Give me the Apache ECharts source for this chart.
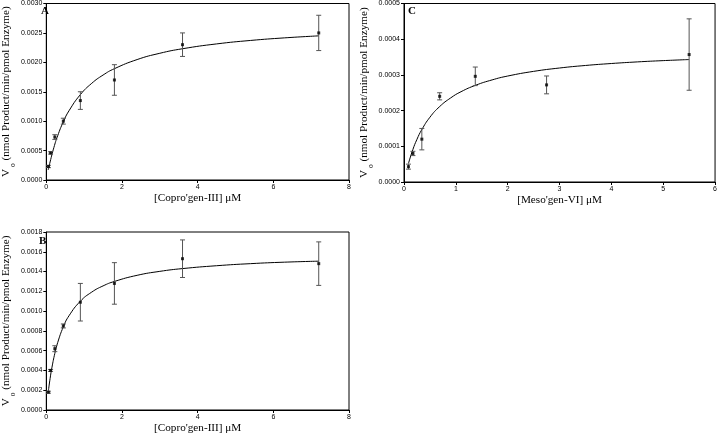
<!DOCTYPE html>
<html>
<head>
<meta charset="utf-8">
<script src="https://cdn.jsdelivr.net/npm/echarts@6/dist/echarts.min.js"></script>
<style>
  html, body { margin: 0; padding: 0; background: #fff; }
  #chart { width: 720px; height: 436px; }
</style>
</head>
<body>
<div id="chart"></div>
<script>
// Panel A: Copro'gen-III
const concA = [0.056, 0.1125, 0.225, 0.45, 0.9, 1.8, 3.6, 7.2]
const rateA = [0.00023, 0.00046, 0.00073, 0.00100, 0.00135, 0.00170, 0.00230, 0.00250]
const errA = [0.00002, 0.00002, 0.00004, 0.00005, 0.00015, 0.00026, 0.00020, 0.00030]
const fitXA = [0.05, 0.1, 0.2, 0.3, 0.45, 0.6, 0.9, 1.2, 1.5, 1.8, 2.4, 3.0, 3.6, 4.5, 5.4, 6.3, 7.2]
const fitYA = [0.00017, 0.000307, 0.000552, 0.000751, 0.00099, 0.001177, 0.001451, 0.001643, 0.001784,
  0.001892, 0.002047, 0.002154, 0.002231, 0.002313, 0.002372, 0.002416, 0.00245]

// Panel B: Copro'gen-III
const concB = [0.056, 0.1125, 0.225, 0.45, 0.9, 1.8, 3.6, 7.2]
const rateB = [0.00018, 0.00040, 0.00062, 0.00085, 0.00109, 0.00128, 0.00153, 0.00148]
const errB = [0.00001, 0.00001, 0.00003, 0.00002, 0.00019, 0.00021, 0.00019, 0.00022]
const fitXB = [0.056, 0.1, 0.15, 0.225, 0.3, 0.45, 0.6, 0.9, 1.2, 1.5, 1.8, 2.4, 3.0, 3.6, 4.5, 5.4, 6.3, 7.2]
const fitYB = [0.000195, 0.000318, 0.000433, 0.000572, 0.000681, 0.000841, 0.000953, 0.0011, 0.001192,
  0.001255, 0.0013, 0.001362, 0.001402, 0.00143, 0.001459, 0.00148, 0.001495, 0.001505]

// Panel C: Meso'gen-VI
const concC = [0.086, 0.172, 0.344, 0.688, 1.375, 2.75, 5.5]
const rateC = [0.000043, 0.000080, 0.000120, 0.000240, 0.000296, 0.000272, 0.000357]
const errC = [0.000007, 0.000006, 0.000030, 0.000010, 0.000026, 0.000025, 0.000100]
const fitXC = [0.086, 0.17, 0.25, 0.34, 0.5, 0.69, 0.9, 1.1, 1.38, 1.7, 2.0, 2.5, 3.0, 3.5, 4.0, 4.5, 5.0, 5.5]
const fitYC = [0.0000519, 0.0000905, 0.0001195, 0.0001458, 0.0001814, 0.0002116, 0.0002355, 0.0002529,
  0.0002709, 0.000286, 0.0002968, 0.0003099, 0.0003193, 0.0003264, 0.0003319, 0.0003364, 0.00034, 0.000343]

const SERIF = 'Liberation Serif'
const SANS = 'Liberation Sans'
const NAME_SIZE = 11.2

const yName = '{v|V}{o|o}{t| (nmol Product/min/pmol Enzyme)}'

function zip(...cols) {
  return cols[0].map((_, i) => cols.map((c) => c[i]))
}

function errorBar(params, api) {
  const x = api.value(0)
  const y = api.value(1)
  const e = api.value(2)
  const top = api.coord([x, y + e])
  const bot = api.coord([x, y - e])
  const w = 2.5
  const style = { stroke: '#555', lineWidth: 1 }
  return {
    type: 'group',
    children: [
      { type: 'line', shape: { x1: top[0], y1: top[1], x2: bot[0], y2: bot[1] }, style },
      { type: 'line', shape: { x1: top[0] - w, y1: top[1], x2: top[0] + w, y2: top[1] }, style },
      { type: 'line', shape: { x1: bot[0] - w, y1: bot[1], x2: bot[0] + w, y2: bot[1] }, style },
    ],
  }
}

function xAxis(idx, name, max, interval) {
  return {
    gridIndex: idx,
    type: 'value',
    min: 0,
    max,
    interval,
    name,
    nameLocation: 'middle',
    nameGap: 13,
    nameTextStyle: { fontFamily: SERIF, fontSize: NAME_SIZE, color: '#000' },
    axisLine: { lineStyle: { color: '#000', width: 1 } },
    axisTick: { show: true, length: 3, lineStyle: { color: '#000' } },
    axisLabel: { fontFamily: SANS, fontSize: 7, color: '#000', margin: 4 },
    splitLine: { show: false },
  }
}

function yAxis(idx, max, interval) {
  return {
    gridIndex: idx,
    type: 'value',
    min: 0,
    max,
    interval,
    name: yName,
    nameLocation: 'middle',
    nameGap: 22,
    nameTextStyle: {
      fontFamily: SERIF,
      fontSize: NAME_SIZE,
      color: '#000',
      rich: {
        v: { fontFamily: SERIF, fontSize: NAME_SIZE, color: '#000', verticalAlign: 'top', lineHeight: 12 },
        o: { fontFamily: SERIF, fontSize: 7.5, color: '#000', verticalAlign: 'top', lineHeight: 8, padding: [8, 0, 0, 2] },
        t: { fontFamily: SERIF, fontSize: NAME_SIZE, color: '#000', verticalAlign: 'top', lineHeight: 12 },
      },
    },
    axisLine: { show: true, lineStyle: { color: '#000', width: 1 } },
    axisTick: { show: true, length: 3, lineStyle: { color: '#000' } },
    axisLabel: { fontFamily: SANS, fontSize: 7, color: '#000', margin: 4, formatter: (v) => v.toFixed(4) },
    splitLine: { show: false },
  }
}

function panelSeries(idx, conc, rate, err, fitX, fitY) {
  return [
    {
      type: 'line',
      xAxisIndex: idx,
      yAxisIndex: idx,
      data: zip(fitX, fitY),
      smooth: true,
      showSymbol: false,
      lineStyle: { color: '#000', width: 1 },
      z: 2,
    },
    {
      type: 'custom',
      xAxisIndex: idx,
      yAxisIndex: idx,
      data: zip(conc, rate, err),
      renderItem: errorBar,
      z: 3,
    },
    {
      type: 'scatter',
      xAxisIndex: idx,
      yAxisIndex: idx,
      data: zip(conc, rate),
      symbol: 'rect',
      symbolSize: 3,
      itemStyle: { color: '#000' },
      z: 4,
    },
  ]
}

const chart = echarts.init(document.getElementById('chart'), null, { renderer: 'canvas' })

const titleStyle = { fontFamily: SERIF, fontSize: 11, fontWeight: 'bold', color: '#000' }

chart.setOption({
  animation: false,
  backgroundColor: '#fff',
  title: [
    { text: 'A', left: 41, top: 6, padding: 0, textStyle: titleStyle },
    { text: 'C', left: 408, top: 6, padding: 0, textStyle: titleStyle },
    { text: 'B', left: 39, top: 236, padding: 0, textStyle: titleStyle },
  ],
  grid: [
    { left: 38, top: 3, width: 311, height: 177, show: true, borderColor: '#000', borderWidth: 1 },
    { left: 36, top: 232, width: 313, height: 178, show: true, borderColor: '#000', borderWidth: 1 },
    { left: 404, top: 3, width: 314, height: 179, show: true, borderColor: '#000', borderWidth: 1 },
  ],
  xAxis: [
    xAxis(0, "[Copro'gen-III] μM", 8, 2),
    xAxis(1, "[Copro'gen-III] μM", 8, 2),
    xAxis(2, "[Meso'gen-VI] μM", 6, 1),
  ],
  yAxis: [
    yAxis(0, 0.003, 0.0005),
    yAxis(1, 0.0018, 0.0002),
    yAxis(2, 0.0005, 0.0001),
  ],
  series: [
    ...panelSeries(0, concA, rateA, errA, fitXA, fitYA),
    ...panelSeries(1, concB, rateB, errB, fitXB, fitYB),
    ...panelSeries(2, concC, rateC, errC, fitXC, fitYC),
  ],
})
</script>
</body>
</html>
